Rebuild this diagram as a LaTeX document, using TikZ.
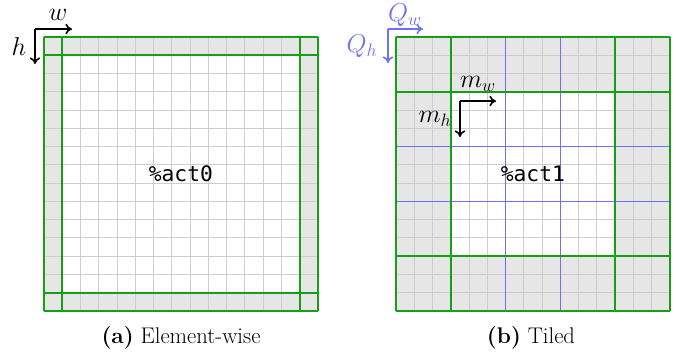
\documentclass[tikz,border=0pt]{standalone}
\usepackage{fontspec}
\newfontfamily\codefont{DejaVu Sans Mono}
\usetikzlibrary{arrows.meta}
\definecolor{gridgreen}{RGB}{20,160,20}
\definecolor{gridgray}{RGB}{205,205,205}
\definecolor{cellfill}{RGB}{230,230,230}
\definecolor{tileblue}{RGB}{110,110,255}
\newcommand{\mylab}[1]{\scalebox{1.12}{$#1$}}
\tikzset{
  greenline/.style={draw=gridgreen, line width=1.5pt},
  grayline/.style={draw=gridgray, line width=0.7pt},
  blueline/.style={draw=tileblue, line width=1.1pt},
  dimarrow/.style={-{To[length=5pt,width=8pt]}, line width=1.2pt},
  codelabel/.style={font=\codefont\fontsize{16}{19}\selectfont},
  mathlabel/.style={font=\fontsize{17.28}{20}\selectfont, inner sep=0pt},
  captionlabel/.style={font=\fontsize{17}{20}\selectfont},
}
\begin{document}
\begin{tikzpicture}[x=0.75pt,y=-0.75pt]
\useasboundingbox (0,0) rectangle (682,355);
\def\cs{18.25}
% ---------- left grid ----------
\begin{scope}[shift={(44,37)}]
  \fill[cellfill] (0,0) rectangle (15*\cs,15*\cs);
  \fill[white] (1*\cs,1*\cs) rectangle (14*\cs,14*\cs);
  \foreach \i in {2,...,13} {
    \draw[grayline] (\i*\cs,0) -- (\i*\cs,15*\cs);
    \draw[grayline] (0,\i*\cs) -- (15*\cs,\i*\cs);
  }
  \foreach \i in {0,1,14,15} {
    \draw[greenline] (\i*\cs,0) -- (\i*\cs,15*\cs);
    \draw[greenline] (0,\i*\cs) -- (15*\cs,\i*\cs);
  }
  \node[codelabel] (act0) at (7.5*\cs,7.5*\cs) {\%act0};
\end{scope}
% ---------- right grid ----------
\begin{scope}[shift={(396,37)}]
  \fill[cellfill] (0,0) rectangle (15*\cs,15*\cs);
  \fill[white] (3*\cs,3*\cs) rectangle (12*\cs,12*\cs);
  \foreach \i in {1,2,4,5,7,8,10,11,13,14} {
    \draw[grayline] (\i*\cs,0) -- (\i*\cs,15*\cs);
    \draw[grayline] (0,\i*\cs) -- (15*\cs,\i*\cs);
  }
  \foreach \i in {6,9} {
    \draw[blueline] (\i*\cs,0) -- (\i*\cs,15*\cs);
    \draw[blueline] (0,\i*\cs) -- (15*\cs,\i*\cs);
  }
  \foreach \i in {0,3,12,15} {
    \draw[greenline] (\i*\cs,0) -- (\i*\cs,15*\cs);
    \draw[greenline] (0,\i*\cs) -- (15*\cs,\i*\cs);
  }
  \node[codelabel] (act1) at (7.5*\cs,7.5*\cs) {\%act1};
\end{scope}
% ---------- arrows ----------
\coordinate (wh0) at (35,29);
\coordinate (wend) at (72,29);
\coordinate (hend) at (35,64);
\draw[dimarrow] (wh0) -- (wend);
\draw[dimarrow] (wh0) -- (hend);
\node[mathlabel] (wlab) at (58,15) {\mylab{w}};
\node[mathlabel] (hlab) at (19,47) {\mylab{h}};

\coordinate (q0) at (388,29);
\coordinate (qwend) at (423,29);
\coordinate (qhend) at (388,63);
\draw[dimarrow, draw=tileblue] (q0) -- (qwend);
\draw[dimarrow, draw=tileblue] (q0) -- (qhend);
\node[mathlabel, text=tileblue] (qwlab) at (405,15) {\mylab{Q_w}};
\node[mathlabel, text=tileblue] (qhlab) at (362,46) {\mylab{Q_h}};

\coordinate (m0) at (460,101);
\coordinate (mwend) at (496,101);
\coordinate (mhend) at (460,137);
\draw[dimarrow] (m0) -- (mwend);
\draw[dimarrow] (m0) -- (mhend);
\node[mathlabel] (mwlab) at (478,84) {\mylab{m_w}};
\node[mathlabel] (mhlab) at (435,119) {\mylab{m_h}};
% ---------- captions ----------
\node[captionlabel] (capa) at (181,338) {\textbf{(a)} Element-wise};
\node[captionlabel] (capb) at (531,338) {\textbf{(b)} Tiled};
\end{tikzpicture}
\end{document}
